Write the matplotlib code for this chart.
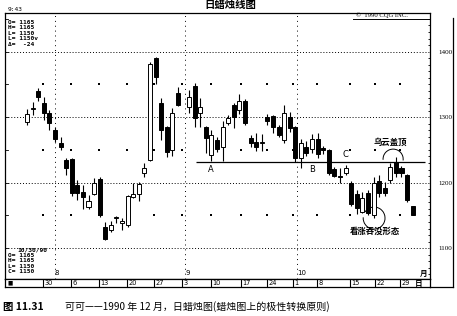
import matplotlib.pyplot as plt
from matplotlib.patches import Arc
from matplotlib.lines import Line2D

plt.rcParams['font.family'] = ['Noto Sans CJK SC', 'DejaVu Sans']

# trading-day index (slot 28 is empty in the source chart)
days = list(range(0, 28)) + list(range(29, 70))
opens = [1293, 1312, 1340, 1322, 1306, 1280, 1261, 1235, 1236, 1197, 1186, 1163, 1183, 1206,
         1132, 1128, 1146, 1138, 1135, 1178, 1183, 1215, 1235, 1390, 1322, 1285, 1250, 1337,
         1315, 1347, 1306, 1285, 1242, 1265, 1254, 1291, 1319, 1311, 1325, 1268, 1262, 1260,
         1300, 1302, 1285, 1265, 1300, 1285, 1237, 1254, 1251, 1266, 1253, 1250, 1221, 1210,
         1215, 1200, 1183, 1155, 1184, 1151, 1202, 1192, 1204, 1232, 1222, 1212, 1165]
highs = [1312, 1323, 1345, 1331, 1311, 1285, 1270, 1238, 1238, 1204, 1196, 1181, 1207, 1208,
         1140, 1142, 1149, 1146, 1181, 1200, 1201, 1230, 1384, 1392, 1329, 1287, 1314, 1346,
         1341, 1352, 1329, 1287, 1280, 1270, 1294, 1303, 1321, 1335, 1327, 1273, 1276, 1274,
         1305, 1304, 1288, 1319, 1308, 1287, 1266, 1264, 1274, 1276, 1256, 1252, 1224, 1222,
         1227, 1202, 1189, 1186, 1189, 1209, 1212, 1201, 1230, 1239, 1226, 1214, 1165]
lows = [1288, 1303, 1325, 1296, 1280, 1262, 1250, 1212, 1180, 1174, 1160, 1160, 1181, 1148,
        1112, 1124, 1138, 1128, 1133, 1176, 1172, 1209, 1233, 1350, 1265, 1239, 1241, 1317,
        1306, 1285, 1285, 1245, 1233, 1247, 1233, 1288, 1283, 1305, 1288, 1255, 1248, 1249,
        1288, 1276, 1270, 1261, 1277, 1232, 1222, 1240, 1245, 1237, 1244, 1212, 1208, 1200,
        1211, 1164, 1152, 1153, 1150, 1146, 1178, 1180, 1200, 1208, 1208, 1170, 1150]
closes = [1305, 1313, 1331, 1306, 1291, 1267, 1254, 1222, 1184, 1184, 1178, 1172, 1200, 1151,
          1114, 1136, 1147, 1142, 1180, 1183, 1198, 1222, 1381, 1362, 1280, 1247, 1306, 1319,
          1331, 1299, 1315, 1268, 1273, 1251, 1285, 1299, 1301, 1325, 1291, 1261, 1254, 1261,
          1294, 1285, 1273, 1306, 1283, 1237, 1260, 1245, 1266, 1244, 1250, 1215, 1210, 1208,
          1222, 1167, 1161, 1177, 1154, 1200, 1184, 1184, 1224, 1215, 1215, 1174, 1150]

week_labels = ["30", "6", "13", "20", "27", "3", "10", "17", "24", "1", "8", "15", "22", "29"]
week_pos = [2.86, 7.87, 12.9, 17.9, 22.7, 27.7, 32.9, 38.3, 42.9, 47.6, 51.9, 57.8, 62.3, 66.7]
month_labels = ["8", "9", "10"]
month_pos = [5.0, 28.3, 48.3]
resistance = 1232

W, H = 457, 316


def fx(x):
    return x / W


def fy(y):
    return 1 - y / H


fig = plt.figure(figsize=(W / 100, H / 100), dpi=100)
ax = fig.add_axes([fx(5), fy(279), fx(430) - fx(5), fy(13) - fy(279)])
ax.set_xlim(-3.94, 72.1)
ax.set_ylim(1053, 1459)

# grid
for p in [1100, 1200, 1300, 1400]:
    ax.axhline(p, color="black", lw=0.7, ls=(0, (1, 2)), zorder=1)
for m in month_pos:
    ax.axvline(m, color="black", lw=0.7, ls=(0, (1, 4)), zorder=1)
for p in [1150, 1250, 1350]:
    ax.scatter(week_pos, [p] * len(week_pos), s=0.6, marker="s", color="black", lw=0, zorder=1)

# candles
ax.vlines(days, lows, highs, color="black", lw=0.8, zorder=2)
bottoms = [min(o, c) for o, c in zip(opens, closes)]
heights = [max(abs(c - o), 1.5) for o, c in zip(opens, closes)]
faces = ["white" if c > o else "black" for o, c in zip(opens, closes)]
ax.bar(days, heights, bottom=bottoms, width=0.72, color=faces, edgecolor="black",
       linewidth=0.7, zorder=3)

# polarity line and annotations
ax.hlines(resistance, 30.2, 71.2, color="black", lw=0.9, zorder=2)
for lab, x, y in [("A", 32.9, 1220), ("B", 51.0, 1220), ("C", 56.9, 1243)]:
    ax.text(x, y, lab, fontsize=6, ha="center", va="center", family="DejaVu Sans")
ax.add_patch(Arc((65.5, 1236), 3.6, 30.5, theta1=-50, theta2=210, lw=0.7, color="black"))
ax.add_patch(Arc((62.1, 1146), 3.9, 33.6, theta1=150, theta2=460, lw=0.7, color="black"))
ax.text(65.0, 1262, "乌云盖顶", fontsize=6, ha="center", va="center", weight="bold")
ax.text(62.3, 1126, "看涨吞没形态", fontsize=6, ha="center", va="center", weight="bold")

for lab, m in zip(month_labels, month_pos):
    ax.text(m, 1062, lab, fontsize=5, ha="left", va="center", family="DejaVu Sans")
ax.text(70.3, 1062, "月", fontsize=5.5, ha="left", va="center", weight="bold")

# axes styling
ax.yaxis.tick_right()
ax.set_yticks([1100, 1200, 1300, 1400])
ax.set_yticklabels(["1100", "1200", "1300", "1400"], family="Liberation Serif", fontsize=5)
ax.tick_params(axis="y", length=0, pad=6)
ax.set_yticks(range(1060, 1460, 10), minor=True)
ax.tick_params(axis="y", which="minor", direction="in", length=1.5, width=0.6, right=True)
ax.set_xticks([])
for s in ax.spines.values():
    s.set_linewidth(0.9)
for p in range(1100, 1460, 50):
    ax.plot([0, 0.006], [p, p], transform=ax.get_yaxis_transform(), color="black", lw=0.6)

# date strip
ax2 = fig.add_axes([fx(5), fy(287), fx(430) - fx(5), fy(279) - fy(287)])
ax2.set_xlim(-3.94, 72.1)
ax2.set_ylim(0, 1)
ax2.set_xticks([])
ax2.set_yticks([])
for s in ax2.spines.values():
    s.set_linewidth(0.9)
for lab, p in zip(week_labels, week_pos):
    ax2.axvline(p, color="black", lw=0.8)
    ax2.text(p + 0.25, 0.45, lab, fontsize=4.8, va="center", ha="left", family="DejaVu Sans")
ax2.text(-3.5, 0.45, "■", fontsize=4, va="center", ha="left", family="DejaVu Sans")
ax2.text(69.4, 0.45, "日", fontsize=5.5, va="center", ha="left", weight="bold")

# outer frame on the price column
fig.add_artist(Line2D([fx(453), fx(453)], [fy(18), fy(287)], color="black", lw=0.9))
fig.add_artist(Line2D([fx(430), fx(453)], [fy(287), fy(287)], color="black", lw=0.9))
fig.add_artist(Line2D([fx(353), fx(430)], [fy(19), fy(19)], color="black", lw=0.7))

# header texts
fig.text(fx(230), fy(5), "日蜡烛线图", fontsize=7.5, ha="center", va="center", weight="bold")
fig.text(fx(8), fy(9.5), "9:43", fontsize=4.5, ha="left", va="center", family="DejaVu Sans Mono")
fig.text(fx(356), fy(15.5), "©  1990 CQG INC.", fontsize=4.8, ha="left", va="center",
         family="Liberation Serif")

mono = dict(fontsize=4.5, ha="left", va="center", family="DejaVu Sans Mono", weight="bold")
for i, t in enumerate(["O= 1165", "H= 1165", "L= 1150", "L= 1150v", "Δ=  -24"]):
    fig.text(fx(8), fy(22 + 5.6 * i), t, **mono)
fig.text(fx(17), fy(249.5), "10/30/90", **mono)
for i, t in enumerate(["O= 1165", "H= 1165", "L= 1150", "C= 1150"]):
    fig.text(fx(8), fy(255.5 + 5.3 * i), t, **mono)

# caption
fig.text(fx(3), fy(307), "图 11.31", fontsize=7.5, ha="left", va="center", weight="bold")
fig.text(fx(65), fy(307), "可可——1990 年 12 月，日蜡烛图(蜡烛图上的极性转换原则)",
         fontsize=7.2, ha="left", va="center")

fig.savefig("out.png", dpi=100)
